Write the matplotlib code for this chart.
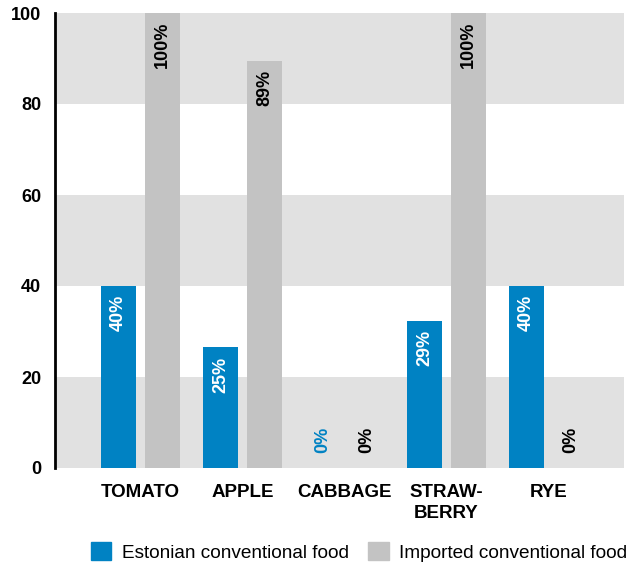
import matplotlib
matplotlib.use("Agg")
import matplotlib.pyplot as plt
import numpy as np
from matplotlib.patches import Patch

plt.rcParams['font.family'] = ['Liberation Sans', 'DejaVu Sans']

categories = ["TOMATO", "APPLE", "CABBAGE", "STRAW-\nBERRY", "RYE"]
estonian = [40, 26.5, 0, 32.3, 40]
imported = [100, 89.5, 0, 100, 0]
estonian_labels = ["40%", "25%", "0%", "29%", "40%"]
imported_labels = ["100%", "89%", "0%", "100%", "0%"]
yticks = [0, 20, 40, 60, 80, 100]

blue = "#0082c3"
gray = "#c3c3c3"
band = "#e1e1e1"

fig = plt.figure(figsize=(6.29, 5.63), dpi=100)
ax = fig.add_axes([55/629, 1-468/563, (624-55)/629, (468-13)/563])

# alternating background bands
for i, lo in enumerate(range(0, 100, 20)):
    if i % 2 == 0:
        ax.axhspan(lo, lo+20, color=band, zorder=0, lw=0)

x = np.arange(len(categories))
off = 0.215
w = 0.345
ax.bar(x-off, estonian, w, color=blue, zorder=2)
ax.bar(x+off, imported, w, color=gray, zorder=2)

for xi, v, lab in zip(x, estonian, estonian_labels):
    if v > 0:
        ax.text(xi-off, v-2, lab, rotation=90, ha="center", va="top",
                color="white", fontsize=13, fontweight="bold", zorder=3)
    else:
        ax.text(xi-off, 3.3, lab, rotation=90, ha="center", va="bottom",
                color=blue, fontsize=13, fontweight="bold", zorder=3)
for xi, v, lab in zip(x, imported, imported_labels):
    if v > 0:
        ax.text(xi+off, v-2, lab, rotation=90, ha="center", va="top",
                color="black", fontsize=13, fontweight="bold", zorder=3)
    else:
        ax.text(xi+off, 3.3, lab, rotation=90, ha="center", va="bottom",
                color="black", fontsize=13, fontweight="bold", zorder=3)

ax.set_xlim(-0.84, 4.74)
ax.set_ylim(0, 100)
ax.set_yticks(yticks)
ax.set_yticklabels([str(t) for t in yticks], fontsize=13, fontweight="bold")
ax.set_xticks(x)
ax.set_xticklabels(categories, fontsize=13.5, fontweight="bold", linespacing=1.3)
ax.tick_params(length=0)
ax.tick_params(axis="x", pad=11.5)
ax.tick_params(axis="y", pad=10)
for s in ["top", "right", "bottom"]:
    ax.spines[s].set_visible(False)
ax.spines["left"].set_linewidth(2)
ax.spines["left"].set_zorder(4)

handles = [Patch(color=blue, label="Estonian conventional food"),
           Patch(color=gray, label="Imported conventional food")]
fig.legend(handles=handles, loc="center", bbox_to_anchor=(359/629, 1-552/563),
           ncol=2, frameon=False, fontsize=13.7, handlelength=1.1,
           handleheight=1.1, handletextpad=0.55, columnspacing=1.0)

fig.savefig("out.png", dpi=100)
